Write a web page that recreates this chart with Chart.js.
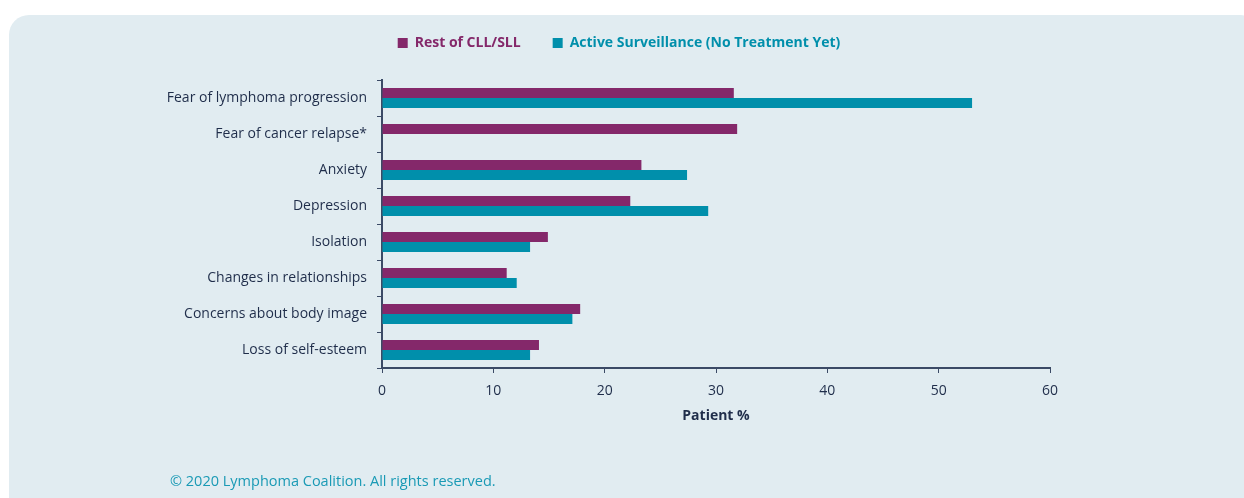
<!DOCTYPE html>
<html lang="en">
<head>
    <meta charset="UTF-8">
    <title>Psychological concerns</title>
    <script src="https://cdn.jsdelivr.net/npm/chart.js@4.4.1/dist/chart.umd.min.js"></script>
    <style>
        html, body { margin:0; padding:0; background:#fff; }
        body { width:1244px; height:498px; position:relative; overflow:hidden; }
        #panel { position:absolute; left:9px; top:15px; width:1240px; height:520px;
                 background:#e1ecf1; border-radius:20px 8px 0 0; }
        #wrap { position:absolute; left:0; top:0; width:1244px; height:498px; }
        #copy { position:absolute; left:170px; top:471px; font-family:"Open Sans", sans-serif;
                font-size:14.5px; color:#1a9ab5; }
    </style>
</head>
<body>
<div id="panel"></div>
<div id="wrap"><canvas id="myChart"></canvas></div>
<div id="copy">© 2020 Lymphoma Coalition. All rights reserved.</div>
<script>
    var categories = ['Fear of lymphoma progression', 'Fear of cancer relapse*', 'Anxiety', 'Depression',
        'Isolation', 'Changes in relationships', 'Concerns about body image', 'Loss of self-esteem'];
    var restOfCll = [31.6, 31.9, 23.3, 22.3, 14.9, 11.2, 17.8, 14.1];
    var activeSurveillance = [53.0, null, 27.4, 29.3, 13.3, 12.1, 17.1, 13.3];
    var xTicks = [0, 10, 20, 30, 40, 50, 60];

    var navy = '#1f2d4a';
    var axisColor = '#3b4a66';
    var magenta = '#84286a';
    var teal = '#008fab';

    // fixed legend height so the plot starts lower, and centre the legend on the whole page
    var legendFix = {
        id: 'legendFix',
        beforeInit: function (chart) {
            var fit = chart.legend.fit;
            chart.legend.fit = function () {
                fit.bind(chart.legend)();
                this.height = 76;
            };
        },
        afterLayout: function (chart) {
            chart.legend.left = -3;
            chart.legend.right = chart.width - 3;
        }
    };

    var ctx = document.getElementById('myChart').getContext('2d');
    var myChart = new Chart(ctx, {
        type: 'bar',
        data: {
            labels: categories,
            datasets: [{
                label: 'Rest of CLL/SLL',
                data: restOfCll,
                backgroundColor: magenta,
                borderWidth: 0,
                categoryPercentage: 0.56,
                barPercentage: 1.0
            }, {
                label: 'Active Surveillance (No Treatment Yet)',
                data: activeSurveillance,
                backgroundColor: teal,
                borderWidth: 0,
                categoryPercentage: 0.56,
                barPercentage: 1.0
            }]
        },
        options: {
            indexAxis: 'y',
            responsive: true,
            maintainAspectRatio: false,
            animation: false,
            layout: { padding: { left: 0, right: 194, top: 4, bottom: 70 } },
            plugins: {
                tooltip: { enabled: false },
                legend: {
                    position: 'top',
                    labels: {
                        boxWidth: 10,
                        boxHeight: 10,
                        padding: 32,
                        font: { family: '"Open Sans", sans-serif', size: 14, weight: 'bold' },
                        generateLabels: function (chart) {
                            return chart.data.datasets.map(function (ds, i) {
                                return {
                                    text: ds.label,
                                    fillStyle: ds.backgroundColor,
                                    strokeStyle: ds.backgroundColor,
                                    lineWidth: 0,
                                    fontColor: ds.backgroundColor,
                                    datasetIndex: i
                                };
                            });
                        }
                    }
                }
            },
            scales: {
                x: {
                    min: 0,
                    max: 60,
                    afterBuildTicks: function (axis) {
                        axis.ticks = xTicks.map(function (v) { return { value: v }; });
                    },
                    afterFit: function (axis) { axis.height = 60; },
                    grid: { drawOnChartArea: false, tickLength: 5, color: axisColor },
                    border: { color: axisColor, width: 2 },
                    ticks: { color: navy, padding: 10, font: { family: '"Open Sans", sans-serif', size: 14 } },
                    title: {
                        display: true,
                        text: 'Patient %',
                        color: navy,
                        padding: { top: 1 },
                        font: { family: '"Open Sans", sans-serif', size: 14, weight: 'bold' }
                    }
                },
                y: {
                    afterFit: function (axis) { axis.width = 382; },
                    grid: { drawOnChartArea: false, offset: true, tickLength: 5, color: axisColor },
                    border: { color: axisColor, width: 2 },
                    ticks: { color: navy, padding: 10, font: { family: '"Open Sans", sans-serif', size: 14 } }
                }
            }
        },
        plugins: [legendFix]
    });
</script>
</body>
</html>
